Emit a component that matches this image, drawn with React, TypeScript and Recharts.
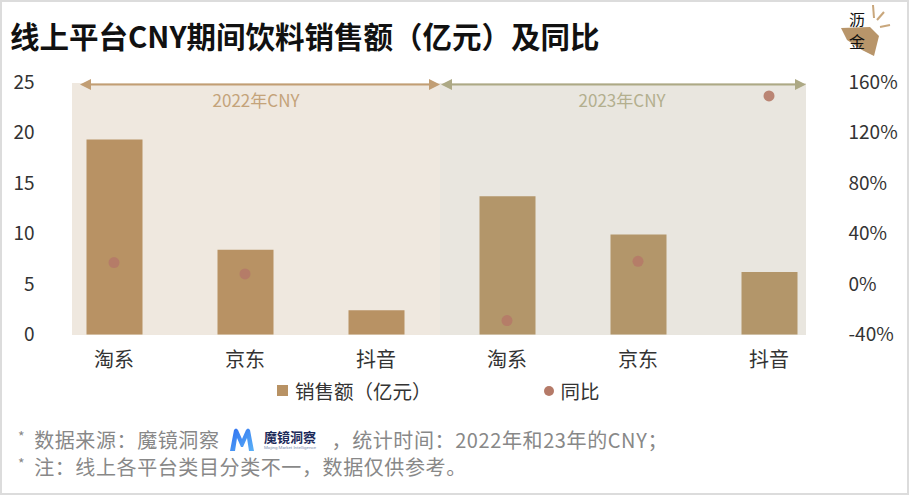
import React from "react";
import {
  ComposedChart,
  Bar,
  Line,
  Cell,
  XAxis,
  YAxis,
} from "recharts";

// 平台・年度ごとの値
const platforms = ["淘系", "京东", "抖音", "淘系", "京东", "抖音"];
const years = ["2022", "2022", "2022", "2023", "2023", "2023"];
const sales = [19.3, 8.4, 2.4, 13.7, 9.9, 6.2];
const yoy: (number | null)[] = [17, 8, null, -29, 18, 149];
const leftTicks = [0, 5, 10, 15, 20, 25];
const rightTicks = [-40, 0, 40, 80, 120, 160];
const barColors: Record<string, string> = { "2022": "#B89264", "2023": "#B3966A" };

const data = platforms.map((p, i) => ({
  key: `${p}-${years[i]}`,
  platform: p,
  year: years[i],
  sales: sales[i],
  yoy: yoy[i],
}));

const FONT = '"Noto Sans CJK SC", "Noto Sans", sans-serif';

const YoyDot = (props: any) => {
  const { cx, cy, value, index } = props;
  if (value == null || cx == null || cy == null) return <g key={`d${index}`} />;
  return <circle key={`d${index}`} cx={cx} cy={cy} r={5.5} fill="#B57A68" fillOpacity={0.9} />;
};

function Arrow({ x1, x2, y, color }: { x1: number; x2: number; y: number; color: string }) {
  return (
    <g>
      <line x1={x1 + 8} x2={x2 - 8} y1={y} y2={y} stroke={color} strokeWidth={2} />
      <polygon points={`${x1},${y} ${x1 + 11},${y - 5.5} ${x1 + 11},${y + 5.5}`} fill={color} />
      <polygon points={`${x2},${y} ${x2 - 11},${y - 5.5} ${x2 - 11},${y + 5.5}`} fill={color} />
    </g>
  );
}

// 魔镜洞察のロゴ（M の図形と社名）
function MojingLogo() {
  return (
    <svg
      width={100}
      height={24}
      style={{ margin: "0 2px 0 10px", display: "block", letterSpacing: 0 }}
    >
      <defs>
        <linearGradient id="mg" x1="0" y1="0" x2="1" y2="1">
          <stop offset="0" stopColor="#2F6FF0" />
          <stop offset="1" stopColor="#5BB2F7" />
        </linearGradient>
      </defs>
      <path d="M0,23 L4,2 Q6,-1 8,2 L12,11 L16,2 Q18,-1 20,2 L24,23 L19,23 L17,10 L13,19 L11,19 L7,10 L5,23 Z" fill="url(#mg)" />
      <text x={34} y={14} fontSize={13} fontWeight={700} fill="#1D2B5A" fontFamily={FONT}>
        魔镜洞察
      </text>
      <text
        x={34}
        y={21}
        fontSize={4}
        fill="#8090B0"
        fontFamily="Roboto, sans-serif"
        textLength={52}
        lengthAdjust="spacingAndGlyphs"
      >
        Mojing Market Intelligence
      </text>
    </svg>
  );
}

export default function App() {
  return (
    <div
      style={{
        position: "fixed",
        left: 0,
        top: 0,
        width: 909,
        height: 495,
        boxSizing: "border-box",
        border: "2px solid #dcdcdc",
        background: "#fff",
        fontFamily: FONT,
        overflow: "hidden",
      }}
    >
      {/* 背景の年度エリアと矢印 */}
      <svg width={909} height={495} style={{ position: "absolute", left: -2, top: -2 }}>
        <rect x={72} y={83} width={368} height={252} fill="#EFE8DF" />
        <rect x={440} y={83} width={366} height={252} fill="#E9E6DF" />
        <Arrow x1={80} x2={440} y={84.5} color="#C29E74" />
        <Arrow x1={441} x2={806} y={84.5} color="#ADA985" />
        <text x={256} y={107} textAnchor="middle" fontSize={17} fill="#C4A37A" fontFamily={FONT}>
          2022年CNY
        </text>
        <text x={622} y={107} textAnchor="middle" fontSize={17} fill="#B3AF8E" fontFamily={FONT}>
          2023年CNY
        </text>
      </svg>

      {/* タイトル */}
      <div
        style={{
          position: "absolute",
          left: 8,
          top: 11,
          fontSize: 29.5,
          fontWeight: 700,
          color: "#111",
          lineHeight: "44px",
        }}
      >
        线上平台CNY期间饮料销售额（亿元）及同比
      </div>

      {/* 右上ロゴ */}
      <svg width={60} height={62} style={{ position: "absolute", left: 836, top: -2 }}>
        <polygon points="3,28 32,27 41,36 36,56 24,50 9,40" fill="#B8956A" />
        <line x1={35} y1={5} x2={36} y2={18} stroke="#C9A77C" strokeWidth={2} />
        <line x1={46} y1={12} x2={39} y2={20} stroke="#C9A77C" strokeWidth={2} />
        <line x1={52} y1={25} x2={42} y2={27} stroke="#C9A77C" strokeWidth={2} />
        <text x={19} y={26} textAnchor="middle" fontSize={16} fill="#111" fontFamily={FONT}>沥</text>
        <text x={19} y={48} textAnchor="middle" fontSize={16} fill="#111" fontFamily={FONT}>金</text>
      </svg>

      <div style={{ position: "absolute", left: -2, top: -2 }}>
        <ComposedChart
          width={909}
          height={380}
          data={data}
          margin={{ top: 82, right: 14.5, left: 0, bottom: 15.5 }}
          barCategoryGap={0}
        >
          <XAxis
            dataKey="key"
            tickFormatter={(v: string) => v.split("-")[0]}
            axisLine={false}
            tickLine={false}
            tickMargin={12}
            interval={0}
            height={30}
            tick={{ fill: "#333", fontSize: 20, fontFamily: FONT }}
          />
          <YAxis
            yAxisId="left"
            orientation="left"
            domain={[0, 25]}
            ticks={leftTicks}
            width={48.5}
            axisLine={false}
            tickLine={false}
            tickMargin={8}
            tick={{ fill: "#333", fontSize: 19, fontFamily: FONT }}
          />
          <YAxis
            yAxisId="right"
            orientation="right"
            domain={[-40, 160]}
            ticks={rightTicks}
            tickFormatter={(v: number) => `${v}%`}
            width={60}
            axisLine={false}
            tickLine={false}
            tickMargin={8}
            tick={{ fill: "#333", fontSize: 19, fontFamily: FONT, textAnchor: "start" }}
          />
          <Bar yAxisId="left" dataKey="sales" barSize={56} isAnimationActive={false}>
            {data.map((d) => (
              <Cell key={d.key} fill={barColors[d.year]} />
            ))}
          </Bar>
          <Line
            yAxisId="right"
            dataKey="yoy"
            stroke="none"
            dot={YoyDot}
            activeDot={false}
            isAnimationActive={false}
          />
        </ComposedChart>
      </div>

      {/* 凡例 */}
      <div
        style={{
          position: "absolute",
          left: 275,
          top: 374,
          fontSize: 19.5,
          color: "#333",
          display: "flex",
          alignItems: "center",
        }}
      >
        <span style={{ width: 11, height: 11, background: "#B89264", display: "inline-block", marginRight: 7 }} />
        <span>销售额（亿元）</span>
        <span
          style={{
            width: 10,
            height: 10,
            borderRadius: 5,
            background: "#B57A68",
            display: "inline-block",
            marginLeft: 112,
            marginRight: 7,
          }}
        />
        <span>同比</span>
      </div>

      {/* 脚注 */}
      <div
        style={{
          position: "absolute",
          left: 16,
          top: 426,
          height: 24,
          fontSize: 20,
          letterSpacing: 0.6,
          color: "#888",
          display: "flex",
          alignItems: "center",
          whiteSpace: "nowrap",
          lineHeight: "24px",
        }}
      >
        <span style={{ fontSize: 14, marginRight: 9, alignSelf: "flex-start", lineHeight: "16px" }}>*</span>
        <span>数据来源：魔镜洞察</span>
        <MojingLogo />
        <span>，统计时间：2022年和23年的CNY；</span>
      </div>
      <div
        style={{
          position: "absolute",
          left: 16,
          top: 453,
          height: 24,
          fontSize: 20,
          letterSpacing: 0.6,
          color: "#888",
          display: "flex",
          whiteSpace: "nowrap",
          lineHeight: "24px",
        }}
      >
        <span style={{ fontSize: 14, marginRight: 9, lineHeight: "16px" }}>*</span>
        <span>注：线上各平台类目分类不一，数据仅供参考。</span>
      </div>
    </div>
  );
}
